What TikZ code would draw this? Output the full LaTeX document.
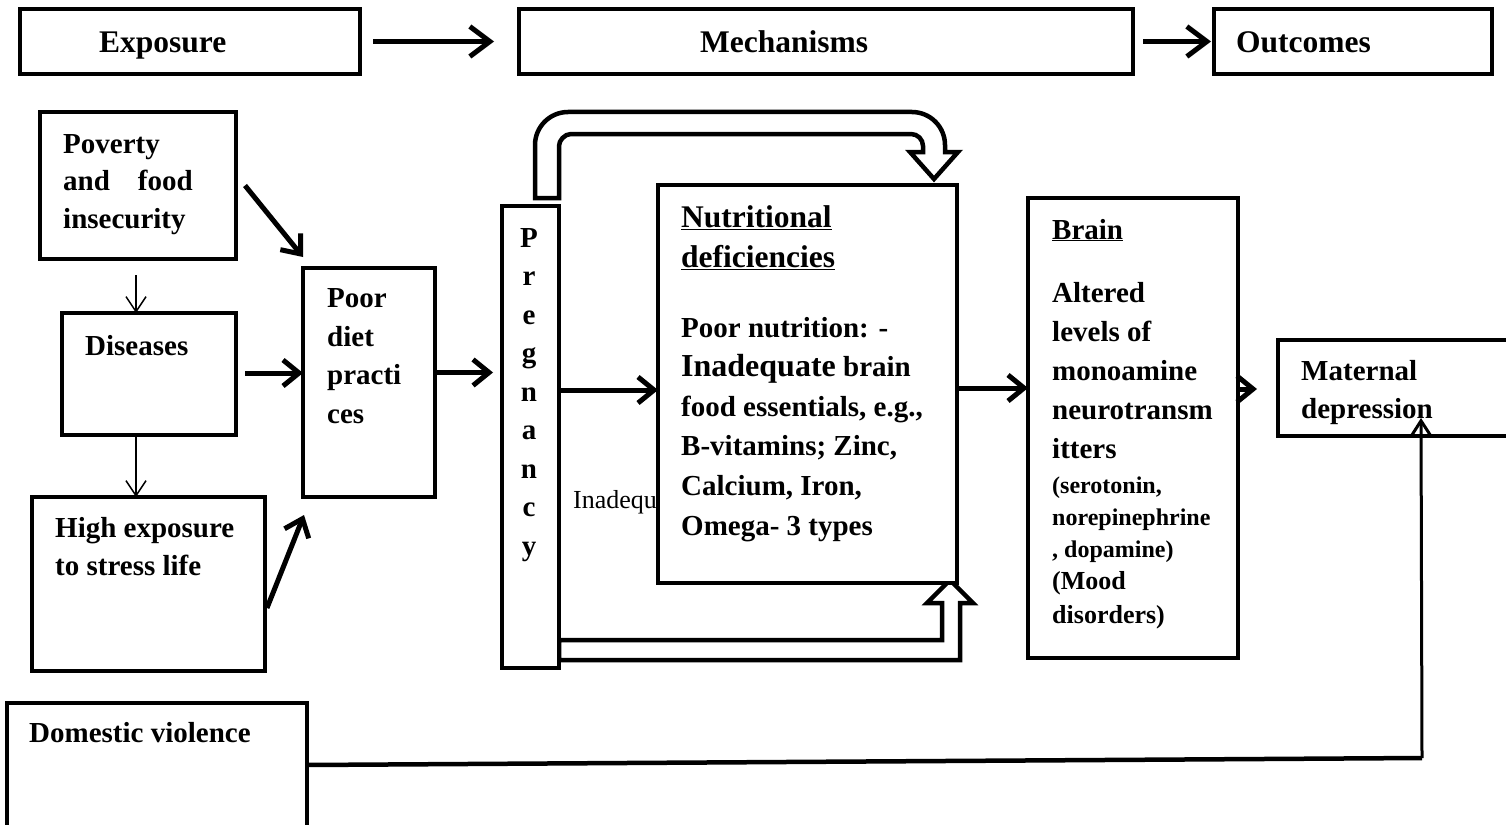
\documentclass[tikz,border=0pt]{standalone}
\usepackage{fontspec}
\setmainfont{Liberation Serif}
\usetikzlibrary{arrows.meta,calc}
\begin{document}
\begin{tikzpicture}[x=1pt,y=-1pt,
  bx/.style={draw, line width=4.5pt, fill=white, inner sep=0pt, outer sep=0pt, anchor=north west},
  txt/.style={inner sep=0pt, anchor=base west, align=left, font=\bfseries\fontsize{29}{38.5}\selectfont},
  hd/.style={inner sep=0pt, anchor=base west, font=\bfseries\fontsize{31.5}{38}\selectfont},
  bigarr/.style={line width=5pt, -{Straight Barb[length=16pt,width=26pt]}},
  toparr/.style={line width=5pt, -{Straight Barb[length=20pt,width=30pt]}},
  thinarr/.style={line width=1.5pt, -{Straight Barb[length=15pt,width=20pt]}},
  hollow/.style={draw, line width=4.5pt, fill=white, line join=miter}
]
\useasboundingbox (0,0) rectangle (1506,824);

% ---------- top row ----------
\node[bx, minimum width=340pt, minimum height=65pt] (expo) at (20,9) {};
\node[bx, minimum width=614pt, minimum height=65pt] (mech) at (519,9) {};
\node[bx, minimum width=278pt, minimum height=65pt] (out) at (1214,9) {};
\node[hd] (expot) at (99,53) {Exposure};
\node[hd] (mecht) at (700,53) {Mechanisms};
\node[hd] (outt) at (1236,53) {Outcomes};
\draw[toparr] ($(expo.east)+(13,0)$) -- ($(mech.west)+(-25,0)$);
\draw[toparr] ($(mech.east)+(10,0)$) -- ($(out.west)+(-3,0)$);

% ---------- hollow arrows ----------
\draw[hollow] (535,198) -- (535,145) .. controls (535,126.8) and (549.8,112) .. (568,112) -- (912,112)
  .. controls (930.2,112) and (945,126.8) .. (945,145) -- (945,152) -- (958,152) -- (934,179) -- (910,152)
  -- (923,152) -- (923,146) .. controls (923,139.4) and (917.6,134) .. (911,134) -- (571,134)
  .. controls (564.4,134) and (559,140.6) .. (559,146) -- (559,198) -- cycle;
\draw[hollow] (559,640) -- (942,640) -- (942,603) -- (927,603) -- (950,580) -- (973,603)
  -- (960,603) -- (960,660) -- (559,660) -- cycle;

% ---------- exposure boxes ----------
% (multi-line text nodes are placed at the baseline of their last line)
\node[bx, minimum width=196pt, minimum height=147pt] (pov) at (40,112) {};
\node[txt, font=\bfseries\fontsize{29}{37.5}\selectfont] (povt) at (63,228) {Poverty\\and\hspace{28pt}food\\insecurity};
\node[bx, minimum width=174pt, minimum height=122pt] (dis) at (62,313) {};
\node[txt] (dist) at (85,355) {Diseases};
\node[bx, minimum width=233pt, minimum height=174pt] (high) at (32,497) {};
\node[txt, font=\bfseries\fontsize{29}{38}\selectfont] (hight) at (55,575) {High exposure\\to stress life};
\node[bx, minimum width=300pt, minimum height=130pt] (dv) at (7,703) {};
\node[txt] (dvt) at (29,742) {Domestic violence};
\node[bx, minimum width=132pt, minimum height=229pt] (poor) at (303,268) {};
\node[txt] (poort) at (327,423) {Poor\\diet\\practi\\ces};

% ---------- pregnancy ----------
\node[bx, minimum width=57pt, minimum height=462pt] (preg) at (502,206) {};
\node[txt, anchor=base, align=center] (pregt) at (529,555) {P\\r\\e\\g\\n\\a\\n\\c\\y};

\node[inner sep=0pt, anchor=base west, font=\fontsize{26}{30}\selectfont] (inad) at (573,508) {Inadequ};

% ---------- nutrition ----------
\node[bx, minimum width=299pt, minimum height=398pt] (nut) at (658,185) {};
\node[hd, align=left, font=\bfseries\fontsize{31.5}{40}\selectfont] (nutt) at (681,267) {\underline{Nutritional}\\\underline{deficiencies}};
\node[txt, font=\bfseries\fontsize{29}{39.6}\selectfont] (nutb) at (681,535)
 {Poor nutrition: -\\{\fontsize{32}{39.6}\selectfont Inadequate} brain\\food essentials, e.g.,\\B-vitamins; Zinc,\\Calcium, Iron,\\Omega- 3 types};

% ---------- brain ----------
\node[bx, minimum width=210pt, minimum height=460pt] (brain) at (1028,198) {};
\node[txt] (braint) at (1052,239) {\underline{Brain}};
\node[txt, font=\bfseries\fontsize{29}{38.8}\selectfont] (brainb) at (1052,458) {Altered\\levels of\\monoamine\\neurotransm\\itters};
\node[txt, font=\bfseries\fontsize{24}{32}\selectfont] (brains) at (1052,557) {(serotonin,\\norepinephrine\\, dopamine)};
\node[txt, font=\bfseries\fontsize{26}{34}\selectfont] (brainm) at (1052,623) {(Mood\\disorders)};

% ---------- maternal ----------
\node[bx, minimum width=240pt, minimum height=96pt] (mat) at (1278,340) {};
\node[txt, font=\bfseries\fontsize{29}{38}\selectfont] (matt) at (1301,418) {Maternal\\depression};

% ---------- connectors ----------
\draw[thinarr] ($(pov.south)+(-2,16)$) coordinate (a1) -- (a1 |- dis.north);
\draw[thinarr] ($(dis.south)+(-13,1)$) coordinate (a2) -- (a2 |- high.north);
\draw[bigarr] ($(pov.east)+(9,0)$) -- ($(poor.north west)+(0,-11)$);
\draw[bigarr] ($(dis.east)+(9,-1)$) coordinate (a3) -- (a3 -| poor.west);
\draw[bigarr] ($(high.east)+(2,24)$) -- ($(poor.south west)+(1,18)$);
\draw[bigarr] ($(poor.east)+(2,-10)$) coordinate (a4) -- ($(a4 -| preg.west)+(-9,0)$);
\draw[bigarr] ($(preg.east)+(0,-47)$) coordinate (a5) -- (a5 -| nut.west);
\draw[bigarr] ($(nut.east)+(0,4)$) coordinate (a6) -- (a6 -| brain.west);
\draw[bigarr] ($(brain.east)+(0,-39)$) coordinate (a7) -- ($(a7 -| mat.west)+(-21,0)$);
\coordinate (dvc) at ($(mat.south)+(24,322)$);
\draw[line width=4.5pt] ($(dv.east)+(0,-3)$) -- (dvc);
\draw[line width=3pt, -{Straight Barb[length=14pt,width=18pt]}] (dvc) -- ($(mat.south)+(23,-18)$);
\end{tikzpicture}
\end{document}
